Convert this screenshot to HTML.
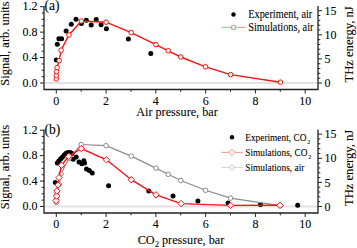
<!DOCTYPE html>
<html><head><meta charset="utf-8"><style>
html,body{margin:0;padding:0;background:#fff;width:357px;height:248px;overflow:hidden}
svg{display:block}
</style></head><body>
<svg width="357" height="248" viewBox="0 0 357 248" font-family='"Liberation Serif", serif' fill="#000">
<style>text{stroke:#000;stroke-width:0.08px;paint-order:stroke}</style>
<line x1="45" y1="83" x2="317" y2="83" stroke="#e2e2e2" stroke-width="1.8"/>
<path d="M44 6 V89.5 H318 V6" fill="none" stroke="#222" stroke-width="1.3"/>
<line x1="40" y1="83.00" x2="44" y2="83.00" stroke="#222" stroke-width="1"/>
<line x1="41.7" y1="76.64" x2="44" y2="76.64" stroke="#222" stroke-width="1"/>
<line x1="41.7" y1="70.28" x2="44" y2="70.28" stroke="#222" stroke-width="1"/>
<line x1="41.7" y1="63.92" x2="44" y2="63.92" stroke="#222" stroke-width="1"/>
<line x1="40" y1="57.56" x2="44" y2="57.56" stroke="#222" stroke-width="1"/>
<line x1="41.7" y1="51.20" x2="44" y2="51.20" stroke="#222" stroke-width="1"/>
<line x1="41.7" y1="44.84" x2="44" y2="44.84" stroke="#222" stroke-width="1"/>
<line x1="41.7" y1="38.48" x2="44" y2="38.48" stroke="#222" stroke-width="1"/>
<line x1="40" y1="32.12" x2="44" y2="32.12" stroke="#222" stroke-width="1"/>
<line x1="41.7" y1="25.76" x2="44" y2="25.76" stroke="#222" stroke-width="1"/>
<line x1="41.7" y1="19.40" x2="44" y2="19.40" stroke="#222" stroke-width="1"/>
<line x1="41.7" y1="13.04" x2="44" y2="13.04" stroke="#222" stroke-width="1"/>
<line x1="40" y1="6.68" x2="44" y2="6.68" stroke="#222" stroke-width="1"/>
<text transform="translate(37.5 86.50) scale(1 1.12)" text-anchor="end" font-size="12">0.0</text>
<text transform="translate(37.5 61.06) scale(1 1.12)" text-anchor="end" font-size="12">0.4</text>
<text transform="translate(37.5 35.62) scale(1 1.12)" text-anchor="end" font-size="12">0.8</text>
<text transform="translate(37.5 10.18) scale(1 1.12)" text-anchor="end" font-size="12">1.2</text>
<line x1="318" y1="83.00" x2="322" y2="83.00" stroke="#222" stroke-width="1"/>
<line x1="318" y1="78.18" x2="320.3" y2="78.18" stroke="#222" stroke-width="1"/>
<line x1="318" y1="73.36" x2="320.3" y2="73.36" stroke="#222" stroke-width="1"/>
<line x1="318" y1="68.54" x2="320.3" y2="68.54" stroke="#222" stroke-width="1"/>
<line x1="318" y1="63.72" x2="320.3" y2="63.72" stroke="#222" stroke-width="1"/>
<line x1="318" y1="58.90" x2="322" y2="58.90" stroke="#222" stroke-width="1"/>
<line x1="318" y1="54.08" x2="320.3" y2="54.08" stroke="#222" stroke-width="1"/>
<line x1="318" y1="49.26" x2="320.3" y2="49.26" stroke="#222" stroke-width="1"/>
<line x1="318" y1="44.44" x2="320.3" y2="44.44" stroke="#222" stroke-width="1"/>
<line x1="318" y1="39.62" x2="320.3" y2="39.62" stroke="#222" stroke-width="1"/>
<line x1="318" y1="34.80" x2="322" y2="34.80" stroke="#222" stroke-width="1"/>
<line x1="318" y1="29.98" x2="320.3" y2="29.98" stroke="#222" stroke-width="1"/>
<line x1="318" y1="25.16" x2="320.3" y2="25.16" stroke="#222" stroke-width="1"/>
<line x1="318" y1="20.34" x2="320.3" y2="20.34" stroke="#222" stroke-width="1"/>
<line x1="318" y1="15.52" x2="320.3" y2="15.52" stroke="#222" stroke-width="1"/>
<line x1="318" y1="10.70" x2="322" y2="10.70" stroke="#222" stroke-width="1"/>
<text transform="translate(324.5 87.10) scale(1 1.12)" font-size="12">0</text>
<text transform="translate(324.5 63.00) scale(1 1.12)" font-size="12">5</text>
<text transform="translate(324.5 38.90) scale(1 1.12)" font-size="12">10</text>
<text transform="translate(324.5 14.80) scale(1 1.12)" font-size="12">15</text>
<line x1="56.30" y1="89.5" x2="56.30" y2="93.5" stroke="#222" stroke-width="1"/>
<text transform="translate(56.30 104.7) scale(1 1.12)" text-anchor="middle" font-size="12">0</text>
<line x1="81.19" y1="89.5" x2="81.19" y2="91.8" stroke="#222" stroke-width="1"/>
<line x1="106.08" y1="89.5" x2="106.08" y2="93.5" stroke="#222" stroke-width="1"/>
<text transform="translate(106.08 104.7) scale(1 1.12)" text-anchor="middle" font-size="12">2</text>
<line x1="130.97" y1="89.5" x2="130.97" y2="91.8" stroke="#222" stroke-width="1"/>
<line x1="155.86" y1="89.5" x2="155.86" y2="93.5" stroke="#222" stroke-width="1"/>
<text transform="translate(155.86 104.7) scale(1 1.12)" text-anchor="middle" font-size="12">4</text>
<line x1="180.75" y1="89.5" x2="180.75" y2="91.8" stroke="#222" stroke-width="1"/>
<line x1="205.64" y1="89.5" x2="205.64" y2="93.5" stroke="#222" stroke-width="1"/>
<text transform="translate(205.64 104.7) scale(1 1.12)" text-anchor="middle" font-size="12">6</text>
<line x1="230.53" y1="89.5" x2="230.53" y2="91.8" stroke="#222" stroke-width="1"/>
<line x1="255.42" y1="89.5" x2="255.42" y2="93.5" stroke="#222" stroke-width="1"/>
<text transform="translate(255.42 104.7) scale(1 1.12)" text-anchor="middle" font-size="12">8</text>
<line x1="280.31" y1="89.5" x2="280.31" y2="91.8" stroke="#222" stroke-width="1"/>
<line x1="305.20" y1="89.5" x2="305.20" y2="93.5" stroke="#222" stroke-width="1"/>
<text transform="translate(305.20 104.7) scale(1 1.12)" text-anchor="middle" font-size="12">10</text>
<text transform="translate(44.5 10.0) scale(1 1.04)" font-size="13.6">(a)</text>
<text transform="translate(9 43.5) rotate(-90)" text-anchor="middle" font-size="12.45">Signal, arb. units</text>
<text transform="translate(352.7 44.4) rotate(-90)" text-anchor="middle" font-size="12.6">THz energy, nJ</text>
<circle cx="56.30" cy="60.00" r="2.5" fill="#000"/>
<circle cx="57.30" cy="44.20" r="2.5" fill="#000"/>
<circle cx="58.90" cy="38.70" r="2.5" fill="#000"/>
<circle cx="61.60" cy="38.70" r="2.5" fill="#000"/>
<circle cx="66.10" cy="31.00" r="2.5" fill="#000"/>
<circle cx="71.30" cy="24.20" r="2.5" fill="#000"/>
<circle cx="76.00" cy="19.20" r="2.5" fill="#000"/>
<circle cx="81.40" cy="23.60" r="2.5" fill="#000"/>
<circle cx="86.30" cy="20.30" r="2.5" fill="#000"/>
<circle cx="91.20" cy="25.00" r="2.5" fill="#000"/>
<circle cx="96.20" cy="19.50" r="2.5" fill="#000"/>
<circle cx="101.10" cy="24.80" r="2.5" fill="#000"/>
<circle cx="106.40" cy="28.70" r="2.5" fill="#000"/>
<circle cx="128.40" cy="39.00" r="2.5" fill="#000"/>
<circle cx="150.80" cy="53.60" r="2.5" fill="#000"/>
<path d="M56.3 78.9 L56.3 75.6 L56.6 71.6 L57.1 67.6 L59.2 60.6 L61.1 50.2 L68.9 35.0 L81.3 21.0 L106.1 22.2 L131.2 32.6 L155.9 44.6 L168.2 50.8 L180.8 57.0 L205.5 66.8 L230.6 74.6 L280.4 82.2" fill="none" stroke="#ff1010" stroke-width="1.4"/>
<circle cx="56.30" cy="78.90" r="2.3" fill="#fff" stroke="#ff1010" stroke-width="1"/>
<circle cx="56.30" cy="75.60" r="2.3" fill="#fff" stroke="#ff1010" stroke-width="1"/>
<circle cx="56.60" cy="71.60" r="2.3" fill="#fff" stroke="#ff1010" stroke-width="1"/>
<circle cx="57.10" cy="67.60" r="2.3" fill="#fff" stroke="#ff1010" stroke-width="1"/>
<circle cx="59.20" cy="60.60" r="2.3" fill="#fff" stroke="#ff1010" stroke-width="1"/>
<circle cx="61.10" cy="50.20" r="2.3" fill="#fff" stroke="#ff1010" stroke-width="1"/>
<circle cx="68.90" cy="35.00" r="2.3" fill="#fff" stroke="#ff1010" stroke-width="1"/>
<circle cx="81.30" cy="21.00" r="2.3" fill="#fff" stroke="#ff1010" stroke-width="1"/>
<circle cx="106.10" cy="22.20" r="2.3" fill="#fff" stroke="#ff1010" stroke-width="1"/>
<circle cx="131.20" cy="32.60" r="2.3" fill="#fff" stroke="#ff1010" stroke-width="1"/>
<circle cx="155.90" cy="44.60" r="2.3" fill="#fff" stroke="#ff1010" stroke-width="1"/>
<circle cx="168.20" cy="50.80" r="2.3" fill="#fff" stroke="#ff1010" stroke-width="1"/>
<circle cx="180.80" cy="57.00" r="2.3" fill="#fff" stroke="#ff1010" stroke-width="1"/>
<circle cx="205.50" cy="66.80" r="2.3" fill="#fff" stroke="#ff1010" stroke-width="1"/>
<circle cx="230.60" cy="74.60" r="2.3" fill="#fff" stroke="#ff1010" stroke-width="1"/>
<circle cx="280.40" cy="82.20" r="2.3" fill="#fff" stroke="#ff1010" stroke-width="1"/>
<circle cx="233.50" cy="14.50" r="2.2" fill="#000"/>
<text transform="translate(248.3 18.20) scale(1 1.15)" font-size="10.3">Experiment, air</text>
<line x1="221.60" y1="27.40" x2="245.40" y2="27.40" stroke="#f59090" stroke-width="1"/>
<circle cx="233.5" cy="27.4" r="2.2" fill="#fff" stroke="#f59090" stroke-width="1.1"/>
<text transform="translate(248.3 31.10) scale(1 1.15)" font-size="10.3">Simulations, air</text>
<line x1="45" y1="206.5" x2="317" y2="206.5" stroke="#e2e2e2" stroke-width="1.8"/>
<path d="M44 129.5 V213.0 H318 V129.5" fill="none" stroke="#222" stroke-width="1.3"/>
<line x1="40" y1="206.50" x2="44" y2="206.50" stroke="#222" stroke-width="1"/>
<line x1="41.7" y1="200.14" x2="44" y2="200.14" stroke="#222" stroke-width="1"/>
<line x1="41.7" y1="193.78" x2="44" y2="193.78" stroke="#222" stroke-width="1"/>
<line x1="41.7" y1="187.42" x2="44" y2="187.42" stroke="#222" stroke-width="1"/>
<line x1="40" y1="181.06" x2="44" y2="181.06" stroke="#222" stroke-width="1"/>
<line x1="41.7" y1="174.70" x2="44" y2="174.70" stroke="#222" stroke-width="1"/>
<line x1="41.7" y1="168.34" x2="44" y2="168.34" stroke="#222" stroke-width="1"/>
<line x1="41.7" y1="161.98" x2="44" y2="161.98" stroke="#222" stroke-width="1"/>
<line x1="40" y1="155.62" x2="44" y2="155.62" stroke="#222" stroke-width="1"/>
<line x1="41.7" y1="149.26" x2="44" y2="149.26" stroke="#222" stroke-width="1"/>
<line x1="41.7" y1="142.90" x2="44" y2="142.90" stroke="#222" stroke-width="1"/>
<line x1="41.7" y1="136.54" x2="44" y2="136.54" stroke="#222" stroke-width="1"/>
<line x1="40" y1="130.18" x2="44" y2="130.18" stroke="#222" stroke-width="1"/>
<text transform="translate(37.5 210.00) scale(1 1.12)" text-anchor="end" font-size="12">0.0</text>
<text transform="translate(37.5 184.56) scale(1 1.12)" text-anchor="end" font-size="12">0.4</text>
<text transform="translate(37.5 159.12) scale(1 1.12)" text-anchor="end" font-size="12">0.8</text>
<text transform="translate(37.5 133.68) scale(1 1.12)" text-anchor="end" font-size="12">1.2</text>
<line x1="318" y1="206.50" x2="322" y2="206.50" stroke="#222" stroke-width="1"/>
<line x1="318" y1="201.68" x2="320.3" y2="201.68" stroke="#222" stroke-width="1"/>
<line x1="318" y1="196.86" x2="320.3" y2="196.86" stroke="#222" stroke-width="1"/>
<line x1="318" y1="192.04" x2="320.3" y2="192.04" stroke="#222" stroke-width="1"/>
<line x1="318" y1="187.22" x2="320.3" y2="187.22" stroke="#222" stroke-width="1"/>
<line x1="318" y1="182.40" x2="322" y2="182.40" stroke="#222" stroke-width="1"/>
<line x1="318" y1="177.58" x2="320.3" y2="177.58" stroke="#222" stroke-width="1"/>
<line x1="318" y1="172.76" x2="320.3" y2="172.76" stroke="#222" stroke-width="1"/>
<line x1="318" y1="167.94" x2="320.3" y2="167.94" stroke="#222" stroke-width="1"/>
<line x1="318" y1="163.12" x2="320.3" y2="163.12" stroke="#222" stroke-width="1"/>
<line x1="318" y1="158.30" x2="322" y2="158.30" stroke="#222" stroke-width="1"/>
<line x1="318" y1="153.48" x2="320.3" y2="153.48" stroke="#222" stroke-width="1"/>
<line x1="318" y1="148.66" x2="320.3" y2="148.66" stroke="#222" stroke-width="1"/>
<line x1="318" y1="143.84" x2="320.3" y2="143.84" stroke="#222" stroke-width="1"/>
<line x1="318" y1="139.02" x2="320.3" y2="139.02" stroke="#222" stroke-width="1"/>
<line x1="318" y1="134.20" x2="322" y2="134.20" stroke="#222" stroke-width="1"/>
<text transform="translate(324.5 210.60) scale(1 1.12)" font-size="12">0</text>
<text transform="translate(324.5 186.50) scale(1 1.12)" font-size="12">5</text>
<text transform="translate(324.5 162.40) scale(1 1.12)" font-size="12">10</text>
<text transform="translate(324.5 138.30) scale(1 1.12)" font-size="12">15</text>
<line x1="56.30" y1="213.0" x2="56.30" y2="217.0" stroke="#222" stroke-width="1"/>
<text transform="translate(56.30 228.2) scale(1 1.12)" text-anchor="middle" font-size="12">0</text>
<line x1="81.19" y1="213.0" x2="81.19" y2="215.3" stroke="#222" stroke-width="1"/>
<line x1="106.08" y1="213.0" x2="106.08" y2="217.0" stroke="#222" stroke-width="1"/>
<text transform="translate(106.08 228.2) scale(1 1.12)" text-anchor="middle" font-size="12">2</text>
<line x1="130.97" y1="213.0" x2="130.97" y2="215.3" stroke="#222" stroke-width="1"/>
<line x1="155.86" y1="213.0" x2="155.86" y2="217.0" stroke="#222" stroke-width="1"/>
<text transform="translate(155.86 228.2) scale(1 1.12)" text-anchor="middle" font-size="12">4</text>
<line x1="180.75" y1="213.0" x2="180.75" y2="215.3" stroke="#222" stroke-width="1"/>
<line x1="205.64" y1="213.0" x2="205.64" y2="217.0" stroke="#222" stroke-width="1"/>
<text transform="translate(205.64 228.2) scale(1 1.12)" text-anchor="middle" font-size="12">6</text>
<line x1="230.53" y1="213.0" x2="230.53" y2="215.3" stroke="#222" stroke-width="1"/>
<line x1="255.42" y1="213.0" x2="255.42" y2="217.0" stroke="#222" stroke-width="1"/>
<text transform="translate(255.42 228.2) scale(1 1.12)" text-anchor="middle" font-size="12">8</text>
<line x1="280.31" y1="213.0" x2="280.31" y2="215.3" stroke="#222" stroke-width="1"/>
<line x1="305.20" y1="213.0" x2="305.20" y2="217.0" stroke="#222" stroke-width="1"/>
<text transform="translate(305.20 228.2) scale(1 1.12)" text-anchor="middle" font-size="12">10</text>
<text transform="translate(44.5 133.5) scale(1 1.04)" font-size="13.6">(b)</text>
<text transform="translate(9 167.0) rotate(-90)" text-anchor="middle" font-size="12.45">Signal, arb. units</text>
<text transform="translate(352.7 167.9) rotate(-90)" text-anchor="middle" font-size="12.6">THz energy, nJ</text>
<circle cx="55.30" cy="182.60" r="2.5" fill="#000"/>
<circle cx="57.30" cy="163.00" r="2.5" fill="#000"/>
<circle cx="58.80" cy="161.00" r="2.5" fill="#000"/>
<circle cx="60.50" cy="159.00" r="2.5" fill="#000"/>
<circle cx="62.30" cy="157.20" r="2.5" fill="#000"/>
<circle cx="64.00" cy="155.30" r="2.5" fill="#000"/>
<circle cx="65.70" cy="153.50" r="2.5" fill="#000"/>
<circle cx="67.80" cy="152.50" r="2.5" fill="#000"/>
<circle cx="70.20" cy="152.50" r="2.5" fill="#000"/>
<circle cx="72.00" cy="153.50" r="2.5" fill="#000"/>
<circle cx="73.20" cy="159.20" r="2.5" fill="#000"/>
<circle cx="76.20" cy="157.00" r="2.5" fill="#000"/>
<circle cx="79.00" cy="162.00" r="2.5" fill="#000"/>
<circle cx="81.80" cy="163.80" r="2.5" fill="#000"/>
<circle cx="83.80" cy="160.80" r="2.5" fill="#000"/>
<circle cx="84.50" cy="163.00" r="2.5" fill="#000"/>
<circle cx="86.50" cy="169.00" r="2.5" fill="#000"/>
<circle cx="89.30" cy="170.50" r="2.5" fill="#000"/>
<circle cx="92.20" cy="173.00" r="2.5" fill="#000"/>
<circle cx="108.60" cy="185.80" r="2.5" fill="#000"/>
<circle cx="148.80" cy="190.90" r="2.5" fill="#000"/>
<circle cx="173.00" cy="196.00" r="2.5" fill="#000"/>
<circle cx="197.90" cy="201.00" r="2.5" fill="#000"/>
<circle cx="228.10" cy="203.00" r="2.5" fill="#000"/>
<circle cx="260.50" cy="204.60" r="2.5" fill="#000"/>
<circle cx="297.70" cy="205.30" r="2.5" fill="#000"/>
<path d="M56.3 202.4 L56.3 199.1 L56.6 195.1 L57.1 191.1 L59.2 184.1 L61.1 173.7 L68.9 158.5 L81.3 144.5 L106.1 145.7 L131.2 156.1 L155.9 168.1 L168.2 174.3 L180.8 180.5 L205.5 190.3 L230.6 198.1 L280.4 205.7" fill="none" stroke="#8c8c8c" stroke-width="1.2"/>
<circle cx="56.30" cy="202.40" r="2.3" fill="#fff" stroke="#8c8c8c" stroke-width="1"/>
<circle cx="56.30" cy="199.10" r="2.3" fill="#fff" stroke="#8c8c8c" stroke-width="1"/>
<circle cx="56.60" cy="195.10" r="2.3" fill="#fff" stroke="#8c8c8c" stroke-width="1"/>
<circle cx="57.10" cy="191.10" r="2.3" fill="#fff" stroke="#8c8c8c" stroke-width="1"/>
<circle cx="59.20" cy="184.10" r="2.3" fill="#fff" stroke="#8c8c8c" stroke-width="1"/>
<circle cx="61.10" cy="173.70" r="2.3" fill="#fff" stroke="#8c8c8c" stroke-width="1"/>
<circle cx="68.90" cy="158.50" r="2.3" fill="#fff" stroke="#8c8c8c" stroke-width="1"/>
<circle cx="81.30" cy="144.50" r="2.3" fill="#fff" stroke="#8c8c8c" stroke-width="1"/>
<circle cx="106.10" cy="145.70" r="2.3" fill="#fff" stroke="#8c8c8c" stroke-width="1"/>
<circle cx="131.20" cy="156.10" r="2.3" fill="#fff" stroke="#8c8c8c" stroke-width="1"/>
<circle cx="155.90" cy="168.10" r="2.3" fill="#fff" stroke="#8c8c8c" stroke-width="1"/>
<circle cx="168.20" cy="174.30" r="2.3" fill="#fff" stroke="#8c8c8c" stroke-width="1"/>
<circle cx="180.80" cy="180.50" r="2.3" fill="#fff" stroke="#8c8c8c" stroke-width="1"/>
<circle cx="205.50" cy="190.30" r="2.3" fill="#fff" stroke="#8c8c8c" stroke-width="1"/>
<circle cx="230.60" cy="198.10" r="2.3" fill="#fff" stroke="#8c8c8c" stroke-width="1"/>
<circle cx="280.40" cy="205.70" r="2.3" fill="#fff" stroke="#8c8c8c" stroke-width="1"/>
<path d="M56.1 200.6 L56.6 196.1 L56.9 191.0 L58.0 185.0 L59.0 177.6 L61.5 165.3 L68.7 156.3 L81.3 148.5 L106.5 159.8 L131.3 179.7 L156.0 194.8 L181.1 203.6 L230.5 205.4 L280.0 205.3" fill="none" stroke="#ff1010" stroke-width="1.4"/>
<path d="M56.10 197.40 L59.30 200.60 L56.10 203.80 L52.90 200.60 Z" fill="#fff" stroke="#ff1010" stroke-width="1"/>
<path d="M56.60 192.90 L59.80 196.10 L56.60 199.30 L53.40 196.10 Z" fill="#fff" stroke="#ff1010" stroke-width="1"/>
<path d="M56.90 187.80 L60.10 191.00 L56.90 194.20 L53.70 191.00 Z" fill="#fff" stroke="#ff1010" stroke-width="1"/>
<path d="M58.00 181.80 L61.20 185.00 L58.00 188.20 L54.80 185.00 Z" fill="#fff" stroke="#ff1010" stroke-width="1"/>
<path d="M59.00 174.40 L62.20 177.60 L59.00 180.80 L55.80 177.60 Z" fill="#fff" stroke="#ff1010" stroke-width="1"/>
<path d="M61.50 162.10 L64.70 165.30 L61.50 168.50 L58.30 165.30 Z" fill="#fff" stroke="#ff1010" stroke-width="1"/>
<path d="M68.70 153.10 L71.90 156.30 L68.70 159.50 L65.50 156.30 Z" fill="#fff" stroke="#ff1010" stroke-width="1"/>
<path d="M81.30 145.30 L84.50 148.50 L81.30 151.70 L78.10 148.50 Z" fill="#fff" stroke="#ff1010" stroke-width="1"/>
<path d="M106.50 156.60 L109.70 159.80 L106.50 163.00 L103.30 159.80 Z" fill="#fff" stroke="#ff1010" stroke-width="1"/>
<path d="M131.30 176.50 L134.50 179.70 L131.30 182.90 L128.10 179.70 Z" fill="#fff" stroke="#ff1010" stroke-width="1"/>
<path d="M156.00 191.60 L159.20 194.80 L156.00 198.00 L152.80 194.80 Z" fill="#fff" stroke="#ff1010" stroke-width="1"/>
<path d="M181.10 200.40 L184.30 203.60 L181.10 206.80 L177.90 203.60 Z" fill="#fff" stroke="#ff1010" stroke-width="1"/>
<path d="M230.50 202.20 L233.70 205.40 L230.50 208.60 L227.30 205.40 Z" fill="#fff" stroke="#ff1010" stroke-width="1"/>
<path d="M280.00 202.10 L283.20 205.30 L280.00 208.50 L276.80 205.30 Z" fill="#fff" stroke="#ff1010" stroke-width="1"/>
<circle cx="232.00" cy="137.30" r="2.2" fill="#000"/>
<text transform="translate(245.2 141.30) scale(1 1.15)" font-size="9.35">Experiment, CO<tspan font-size="6" dx="0.8" dy="2.6">2</tspan></text>
<line x1="221.10" y1="152.35" x2="242.90" y2="152.35" stroke="#f59090" stroke-width="1"/>
<path d="M232.00 149.25 L235.10 152.35 L232.00 155.45 L228.90 152.35 Z" fill="#fff" stroke="#f59090" stroke-width="1"/>
<text transform="translate(245.2 156.35) scale(1 1.15)" font-size="9.35">Simulations, CO<tspan font-size="6" dx="0.8" dy="2.6">2</tspan></text>
<line x1="221.10" y1="167.40" x2="242.90" y2="167.40" stroke="#d4d4d4" stroke-width="1"/>
<circle cx="232" cy="167.4" r="2.2" fill="#fff" stroke="#d4d4d4" stroke-width="1.1"/>
<text transform="translate(245.2 171.40) scale(1 1.15)" font-size="9.35">Simulations, air</text>
<text x="177" y="115.8" text-anchor="middle" font-size="12.2">Air pressure, bar</text>
<text x="181" y="243.6" text-anchor="middle" font-size="12.2">CO<tspan font-size="8" dx="0.3" dy="3.6">2</tspan><tspan dy="-3.6"> pressure, bar</tspan></text>
</svg>
</body></html>
